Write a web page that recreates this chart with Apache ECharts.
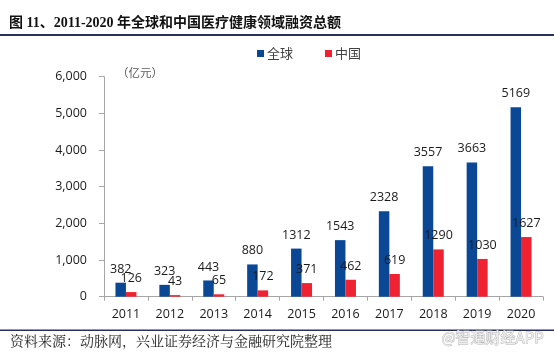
<!DOCTYPE html>
<html>
<head>
<meta charset="utf-8">
<script src="https://cdn.jsdelivr.net/npm/echarts@6/dist/echarts.min.js"></script>
<style>html,body{margin:0;padding:0;background:#fff;}#c{width:554px;height:358px;}</style>
</head>
<body>
<div id="c"></div>
<script>
const years = ['2011','2012','2013','2014','2015','2016','2017','2018','2019','2020'];
const globalVals = [382, 323, 443, 880, 1312, 1543, 2328, 3557, 3663, 5169];
const chinaVals = [126, 43, 65, 172, 371, 462, 619, 1290, 1030, 1627];
const seriesNames = ['全球', '中国'];
const yTicks = [0, 1000, 2000, 3000, 4000, 5000, 6000];
const titleText = '图 11、2011-2020 年全球和中国医疗健康领域融资总额';
const unitText = '（亿元）';
const sourceText = '资料来源：动脉网，兴业证券经济与金融研究院整理';
const watermarkText = '@智通财经APP';

const chart = echarts.init(document.getElementById('c'), null, {renderer: 'canvas'});
const numFont = '"Open Sans", "DejaVu Sans", sans-serif';
const cjkFont = '"Noto Sans CJK SC", sans-serif';
const axisColor = '#a6a6a6';

chart.setOption({
  animation: false,
  backgroundColor: '#ffffff',
  grid: {left: 104, right: 11, top: 76.7, bottom: 61.3, containLabel: false},
  legend: {
    left: 257, top: 47, padding: 0,
    itemWidth: 7, itemHeight: 7, itemGap: 32,
    icon: 'rect',
    textStyle: {fontFamily: cjkFont, fontSize: 13, color: '#404040', padding: [0,0,0,-2]},
    data: seriesNames
  },
  xAxis: {
    type: 'category',
    data: years,
    axisLine: {lineStyle: {color: axisColor, width: 1}},
    axisTick: {show: true, length: 4, alignWithLabel: false, lineStyle: {color: axisColor}},
    axisLabel: {fontFamily: numFont, fontSize: 12.5, color: '#1a1a1a', margin: 11}
  },
  yAxis: {
    type: 'value',
    min: yTicks[0], max: yTicks[yTicks.length - 1], interval: 1000,
    axisLine: {show: true, lineStyle: {color: axisColor, width: 1}},
    axisTick: {show: true, length: 5, lineStyle: {color: axisColor}},
    splitLine: {show: false},
    axisLabel: {
      fontFamily: numFont, fontSize: 12.5, color: '#1a1a1a', margin: 17,
      formatter: v => v.toLocaleString('en-US')
    }
  },
  series: [
    {
      name: seriesNames[0], type: 'bar', data: globalVals,
      barWidth: 10.5, barGap: '0%',
      itemStyle: {color: '#0a4896'},
      label: {show: true, position: 'top', distance: 7, fontFamily: numFont, fontSize: 12.5, color: '#1a1a1a'}
    },
    {
      name: seriesNames[1], type: 'bar', data: chinaVals,
      barWidth: 10.5, barGap: '0%',
      itemStyle: {color: '#ee2231'},
      label: {show: true, position: 'top', distance: 7, fontFamily: numFont, fontSize: 12.5, color: '#1a1a1a'}
    }
  ],
  graphic: [
    {type: 'text', left: 9, top: 16, style: {text: titleText, fontFamily: '"Liberation Serif", "Noto Sans CJK SC", serif', fontWeight: 'bold', fontSize: 14, fill: '#111'}},
    {type: 'rect', shape: {x: 0, y: 34, width: 554, height: 2}, style: {fill: '#2b2f5e'}},
    {type: 'text', left: 117, top: 67, style: {text: unitText, fontFamily: cjkFont, fontSize: 11.5, fill: '#595959'}},
    {type: 'rect', shape: {x: 0, y: 329.5, width: 554, height: 1.5}, style: {fill: '#2b2f5e'}},
    {type: 'text', left: 10, top: 334, style: {text: sourceText, fontFamily: '"Noto Serif CJK SC", "Noto Sans CJK SC", serif', fontSize: 14, fill: '#222'}},
    {type: 'text', left: 441, top: 329, style: {text: watermarkText, fontFamily: cjkFont, fontSize: 15, fill: '#eeeeee', stroke: '#b0b0b0', lineWidth: 0.8}}
  ]
});
</script>
</body>
</html>
